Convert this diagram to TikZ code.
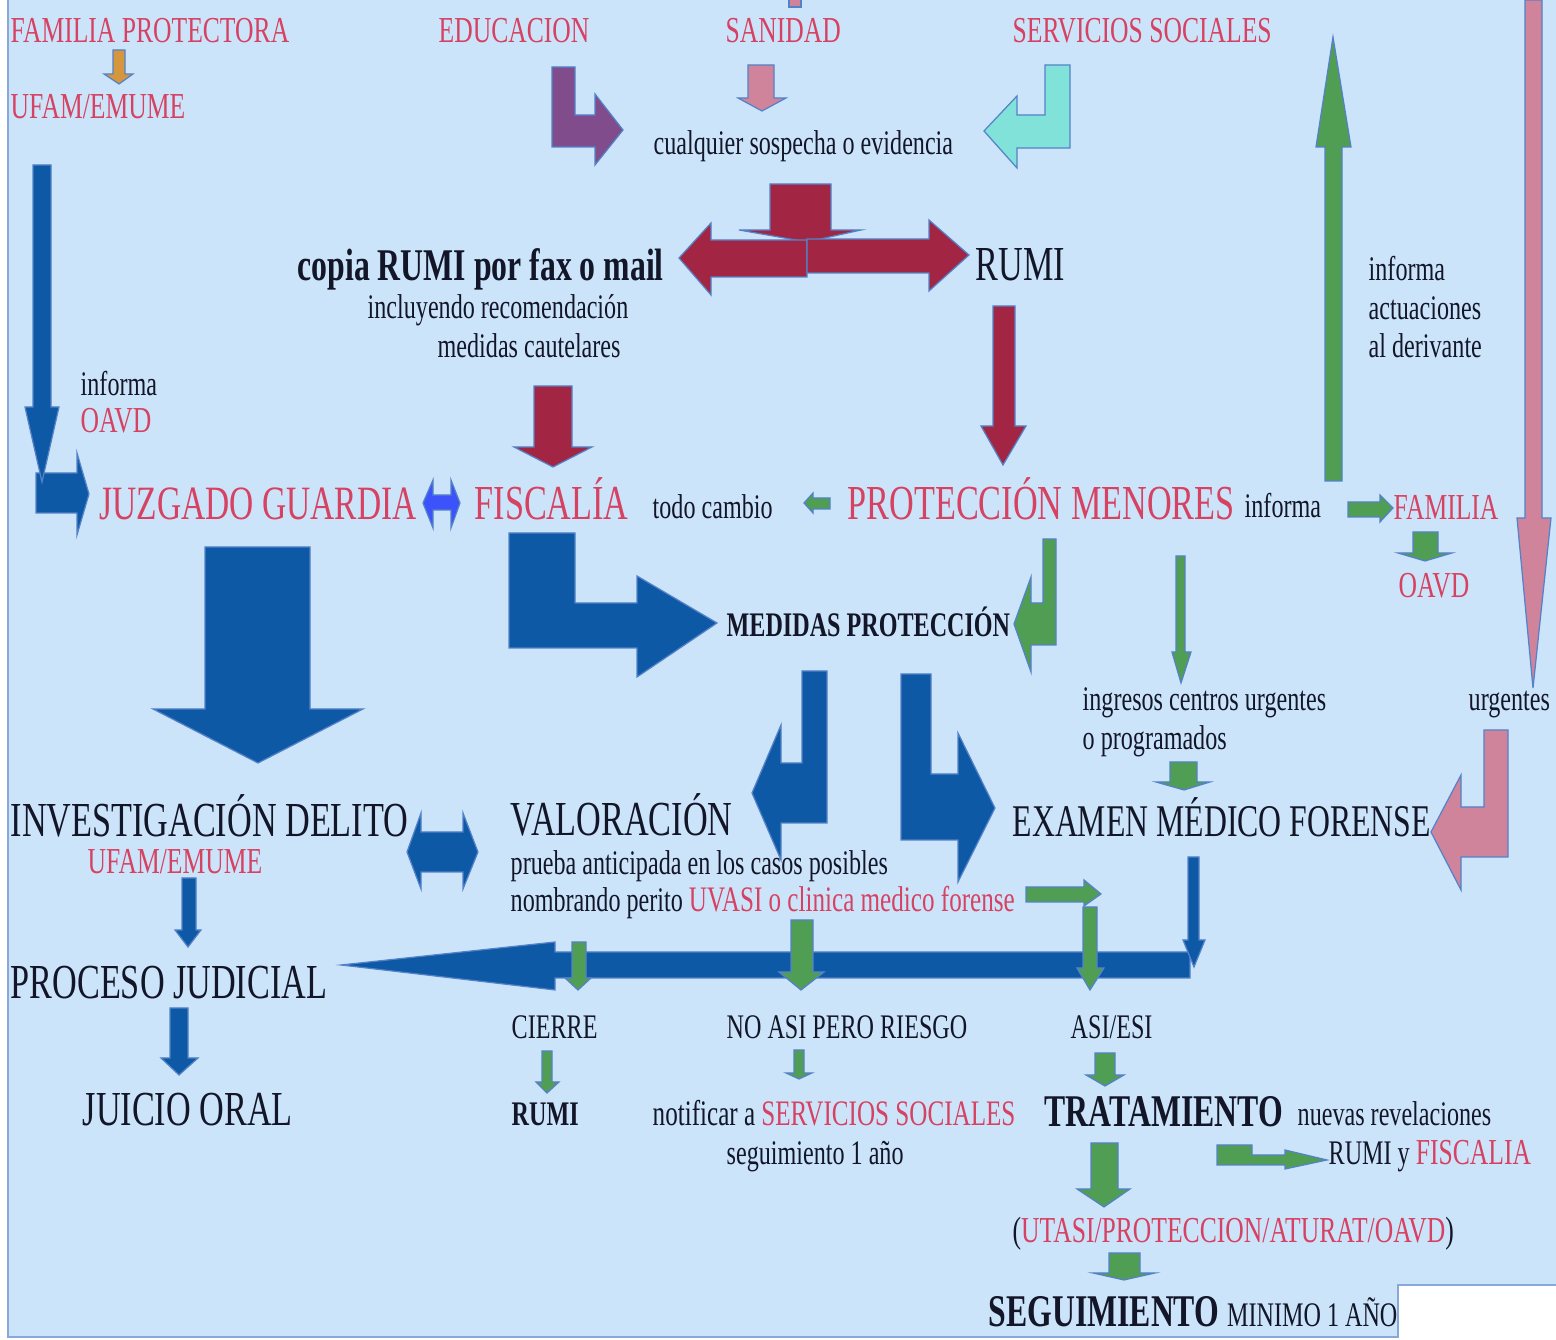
\documentclass[tikz,border=0pt]{standalone}
\usepackage{fontspec}
\setmainfont{Liberation Serif}[FakeStretch=0.7]
\usepackage{tikz}

\definecolor{fondo}{RGB}{204,228,250}
\definecolor{rosa}{RGB}{214,66,98}
\definecolor{tinta}{RGB}{18,22,40}
\definecolor{azul}{RGB}{14,89,165}
\definecolor{granate}{RGB}{162,38,68}
\definecolor{verde}{RGB}{80,157,84}
\definecolor{morado}{RGB}{128,76,140}
\definecolor{malva}{RGB}{207,132,156}
\definecolor{turquesa}{RGB}{128,226,216}
\definecolor{naranja}{RGB}{214,150,62}
\definecolor{azulvivo}{RGB}{60,82,250}
\definecolor{borde}{RGB}{84,130,200}

\begin{document}
\begin{tikzpicture}[x=0.01cm, y=-0.01cm,
		text_style/.style={anchor=base west,inner sep=0pt,yshift=-0.6pt,text=tinta,font=\fontsize{9.8}{11}\selectfont},
		label_style/.style={text_style,text=rosa,font=\fontsize{10.4}{12}\selectfont},
		big_style/.style={text_style,font=\fontsize{13.9}{15}\selectfont},
		bigrosa_style/.style={big_style,text=rosa},
		bold_style/.style={text_style,font=\fontsize{12.9}{15}\selectfont\bfseries},
		arrow_style/.style={draw=borde,line width=0.35pt,line join=miter},
		arrow_blue/.style={arrow_style,fill=azul},
		arrow_red/.style={arrow_style,fill=granate},
		arrow_green/.style={arrow_style,fill=verde},
		arrow_pink/.style={arrow_style,fill=malva}]
		
		% fondo
		\useasboundingbox (0,0) rectangle (1556,1340);
		\fill[fondo] (8,0) -- (1556,0) -- (1556,1285) -- (1398,1285) -- (1398,1337) -- (8,1337) -- cycle;
		\draw[borde!70,line width=0.6pt] (8,0) -- (8,1337) -- (1398,1337) -- (1398,1285) -- (1556,1285);
		
		% flechas de entrada
		\draw[arrow_style,fill=naranja] (113,50) -- (125,50) -- (125,74) -- (133,74) -- (119,84) -- (104,74) -- (113,74) -- cycle;
		\draw[arrow_pink] (789,-1) -- (801,-1) -- (801,7) -- (789,7) -- cycle;
		\draw[arrow_pink] (748,65) -- (774,65) -- (774,98) -- (786,98) -- (762,111) -- (738,98) -- (748,98) -- cycle;
		\draw[arrow_style,fill=morado] (552,67) -- (575,67) -- (575,115) -- (595,115) -- (595,94) -- (623,130) -- (595,165) -- (595,147) -- (552,147) -- cycle;
		\draw[arrow_style,fill=turquesa] (1045,65) -- (1070,65) -- (1070,148) -- (1017,148) -- (1017,168) -- (984,131) -- (1017,96) -- (1017,115) -- (1045,115) -- cycle;
		
		% reparto RUMI
		\draw[arrow_red] (770,184) -- (831,184) -- (831,230) -- (861,230) -- (807,242) -- (739,230) -- (770,230) -- cycle;
		\draw[arrow_red] (807,240) -- (711,240) -- (711,223) -- (679,258) -- (711,295) -- (711,277) -- (807,277) -- cycle;
		\draw[arrow_red] (807,239) -- (929,239) -- (929,220) -- (969,255) -- (929,291) -- (929,273) -- (807,273) -- cycle;
		\draw[arrow_red] (993,306) -- (1015,306) -- (1015,426) -- (1026,426) -- (1003,465) -- (981,426) -- (993,426) -- cycle;
		\draw[arrow_red] (534,386) -- (572,386) -- (572,447) -- (592,447) -- (553,467) -- (514,447) -- (534,447) -- cycle;
		
		% columna izquierda
		\draw[arrow_blue] (36,473) -- (77,473) -- (77,453) -- (89,494) -- (77,535) -- (77,513) -- (36,513) -- cycle;
		\draw[arrow_blue] (33,165) -- (51,165) -- (51,407) -- (59,407) -- (42,482) -- (25,407) -- (33,407) -- cycle;
		\draw[arrow_style,fill=azulvivo] (423,503) -- (433,480) -- (433,495) -- (451,495) -- (451,480) -- (460,503) -- (451,528) -- (451,510) -- (433,510) -- (433,528) -- cycle;
		\draw[arrow_blue] (205,547) -- (310,547) -- (310,709) -- (363,709) -- (258,763) -- (153,709) -- (205,709) -- cycle;
		\draw[arrow_blue] (407,852) -- (421,813) -- (421,832) -- (463,832) -- (463,813) -- (478,852) -- (463,889) -- (463,872) -- (421,872) -- (421,889) -- cycle;
		\draw[arrow_blue] (182,878) -- (196,878) -- (196,930) -- (201,930) -- (188,947) -- (175,930) -- (182,930) -- cycle;
		\draw[arrow_blue] (170,1008) -- (188,1008) -- (188,1058) -- (198,1058) -- (179,1075) -- (161,1058) -- (170,1058) -- cycle;
		
		% proteccion y medidas
		\draw[arrow_green] (804,503) -- (813,493) -- (813,498) -- (830,498) -- (830,509) -- (813,509) -- (813,513) -- cycle;
		\draw[arrow_green] (1348,502) -- (1380,502) -- (1380,495) -- (1393,508) -- (1380,522) -- (1380,517) -- (1348,517) -- cycle;
		\draw[arrow_green] (1413,532) -- (1438,532) -- (1438,553) -- (1452,553) -- (1425,561) -- (1398,553) -- (1413,553) -- cycle;
		\draw[arrow_green] (1325,481) -- (1342,481) -- (1342,147) -- (1351,147) -- (1333,37) -- (1316,147) -- (1325,147) -- cycle;
		\draw[arrow_pink] (1525,0) -- (1542,0) -- (1542,518) -- (1551,518) -- (1533,688) -- (1517,518) -- (1525,518) -- cycle;
		\draw[arrow_green] (1043,539) -- (1056,539) -- (1056,645) -- (1031,645) -- (1031,672) -- (1014,624) -- (1031,577) -- (1031,603) -- (1043,603) -- cycle;
		\draw[arrow_green] (1176,556) -- (1185,556) -- (1185,652) -- (1191,652) -- (1181,683) -- (1172,652) -- (1176,652) -- cycle;
		\draw[arrow_blue] (509,533) -- (575,533) -- (575,603) -- (637,603) -- (637,576) -- (717,623) -- (637,677) -- (637,648) -- (509,648) -- cycle;
		\draw[arrow_blue] (802,671) -- (827,671) -- (827,823) -- (781,823) -- (781,860) -- (752,793) -- (781,725) -- (781,763) -- (802,763) -- cycle;
		\draw[arrow_blue] (901,674) -- (931,674) -- (931,774) -- (958,774) -- (958,733) -- (995,808) -- (958,882) -- (958,840) -- (901,840) -- cycle;
		\draw[arrow_pink] (1484,730) -- (1508,730) -- (1508,857) -- (1461,857) -- (1461,890) -- (1431,832) -- (1461,775) -- (1461,807) -- (1484,807) -- cycle;
		\draw[arrow_green] (1170,762) -- (1197,762) -- (1197,782) -- (1210,782) -- (1184,790) -- (1156,782) -- (1170,782) -- cycle;
		
		% resultados de la valoracion
		\draw[arrow_blue] (1190,952) -- (555,952) -- (555,942) -- (341,965) -- (555,990) -- (555,978) -- (1190,978) -- cycle;
		\draw[arrow_blue] (1188,857) -- (1199,857) -- (1199,940) -- (1205,940) -- (1194,967) -- (1183,940) -- (1188,940) -- cycle;
		\draw[arrow_green] (1026,887) -- (1084,887) -- (1084,880) -- (1101,894) -- (1084,906) -- (1084,902) -- (1026,902) -- cycle;
		\draw[arrow_green] (1083,907) -- (1097,907) -- (1097,968) -- (1104,968) -- (1090,990) -- (1077,968) -- (1083,968) -- cycle;
		\draw[arrow_green] (572,942) -- (586,942) -- (586,978) -- (591,978) -- (578,990) -- (565,978) -- (572,978) -- cycle;
		\draw[arrow_green] (791,920) -- (813,920) -- (813,972) -- (824,972) -- (801,990) -- (779,972) -- (791,972) -- cycle;
		\draw[arrow_green] (542,1051) -- (552,1051) -- (552,1082) -- (559,1082) -- (547,1093) -- (536,1082) -- (542,1082) -- cycle;
		\draw[arrow_green] (794,1050) -- (804,1050) -- (804,1073) -- (812,1073) -- (799,1079) -- (786,1073) -- (794,1073) -- cycle;
		\draw[arrow_green] (1095,1053) -- (1115,1053) -- (1115,1075) -- (1124,1075) -- (1105,1086) -- (1086,1075) -- (1095,1075) -- cycle;
		\draw[arrow_green] (1091,1143) -- (1118,1143) -- (1118,1189) -- (1130,1189) -- (1104,1207) -- (1077,1189) -- (1091,1189) -- cycle;
		\draw[arrow_green] (1109,1253) -- (1140,1253) -- (1140,1273) -- (1155,1273) -- (1124,1280) -- (1093,1273) -- (1109,1273) -- cycle;
		\draw[arrow_green] (1217,1145) -- (1252,1145) -- (1252,1155) -- (1285,1155) -- (1285,1150) -- (1327,1160) -- (1285,1169) -- (1285,1165) -- (1217,1165) -- cycle;
		
		% textos
		\node[label_style] (fam) at (10,40) {FAMILIA PROTECTORA};
		\node[label_style] (ufam) at (10,116) {UFAM/EMUME};
		\node[label_style] (edu) at (438,40) {EDUCACION};
		\node[label_style] (san) at (725,40) {SANIDAD};
		\node[label_style] (ss) at (1012,40) {SERVICIOS SOCIALES};
		\node[text_style] (sosp) at (653,152) {cualquier sospecha o evidencia};
		\node[bold_style] (copia) at (297,278) {copia RUMI por fax o mail};
		\node[text_style] (incl) at (367,316) {incluyendo recomendación};
		\node[text_style] (medc) at (437,355) {medidas cautelares};
		\node[big_style] (rumi) at (975,278) {RUMI};
		\node[text_style] (inf1) at (80,393) {informa};
		\node[label_style] (oavd1) at (80,430) {OAVD};
		\node[bigrosa_style,font=\fontsize{13.6}{15}\selectfont] (juz) at (99,517) {JUZGADO GUARDIA};
		\node[bigrosa_style] (fisc) at (474,517) {FISCALÍA};
		\node[text_style] (todo) at (652,516) {todo cambio};
		\node[bigrosa_style] (prot) at (847,517) {PROTECCIÓN MENORES};
		\node[text_style] (inf2) at (1244,515) {informa};
		\node[label_style] (famil) at (1393,517) {FAMILIA};
		\node[label_style] (oavd2) at (1398,595) {OAVD};
		\node[text_style] (act1) at (1368,278) {informa};
		\node[text_style] (act2) at (1368,317) {actuaciones};
		\node[text_style] (act3) at (1368,355) {al derivante};
		\node[text_style,font=\fontsize{9.8}{11}\selectfont\bfseries] (medp) at (726,634) {MEDIDAS PROTECCIÓN};
		\node[text_style] (ingr1) at (1082,708) {ingresos centros urgentes};
		\node[text_style] (ingr2) at (1082,747) {o programados};
		\node[text_style] (urg) at (1468,708) {urgentes};
		\node[big_style] (inv) at (10,834) {INVESTIGACIÓN DELITO};
		\node[label_style] (ufam2) at (87,871) {UFAM/EMUME};
		\node[big_style] (val) at (510,833) {VALORACIÓN};
		\node[text_style] (prueba) at (510,872) {prueba anticipada en los casos posibles};
		\node[text_style] (perito) at (510,909) {nombrando perito {\fontsize{10.2}{12}\selectfont\textcolor{rosa}{UVASI o clinica medico forense}}};
		\node[big_style,font=\fontsize{12.9}{15}\selectfont] (exam) at (1012,834) {EXAMEN MÉDICO FORENSE};
		\node[big_style] (proc) at (10,996) {PROCESO JUDICIAL};
		\node[big_style] (juicio) at (82,1123) {JUICIO ORAL};
		\node[text_style] (cierre) at (511,1036) {CIERRE};
		\node[text_style,font=\fontsize{9.8}{11}\selectfont\bfseries] (rumi2) at (511,1123) {RUMI};
		\node[text_style] (noasi) at (726,1036) {NO ASI PERO RIESGO};
		\node[text_style] (asi) at (1070,1036) {ASI/ESI};
		\node[text_style,font=\fontsize{10.2}{12}\selectfont] (notif) at (652,1123) {notificar a \textcolor{rosa}{SERVICIOS SOCIALES}};
		\node[text_style] (seg1) at (726,1162) {seguimiento 1 año};
		\node[bold_style] (trat) at (1044,1124) {TRATAMIENTO};
		\node[text_style] (nuevas) at (1297,1123) {nuevas revelaciones};
		\node[text_style] (rumifisc) at (1328,1162) {RUMI y {\fontsize{10.4}{12}\selectfont\textcolor{rosa}{FISCALIA}}};
		\node[text_style,font=\fontsize{10.4}{12}\selectfont] (utasi) at (1012,1240) {(\textcolor{rosa}{UTASI/PROTECCION/ATURAT/OAVD})};
		\node[bold_style] (segui) at (988,1324) {SEGUIMIENTO {\mdseries\fontsize{9.8}{11}\selectfont MINIMO 1 AÑO}};
		
\end{tikzpicture}
\end{document}
